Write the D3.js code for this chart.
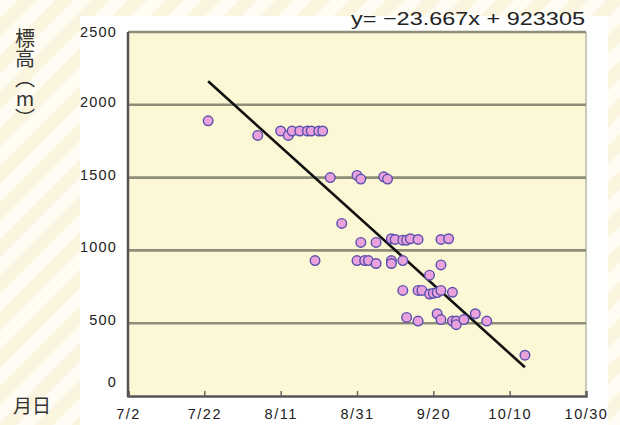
<!DOCTYPE html>
<html><head><meta charset="utf-8">
<script src="https://cdn.jsdelivr.net/npm/d3@7"></script>
<style>
html,body{margin:0;padding:0;background:#fff;}
svg{display:block;}
</style></head>
<body>
<svg id="c" width="620" height="425"></svg>
<script>
// ---- data ----
const dates = ["2006-07-23","2006-08-05","2006-08-11","2006-08-13","2006-08-14","2006-08-16","2006-08-18","2006-08-19","2006-08-21","2006-08-22",
"2006-08-20","2006-08-24","2006-08-27","2006-08-31","2006-09-01","2006-09-07","2006-09-08",
"2006-09-01","2006-09-05","2006-09-09","2006-09-10","2006-09-12","2006-09-13","2006-09-14","2006-09-16","2006-09-22","2006-09-24",
"2006-08-31","2006-09-02","2006-09-03","2006-09-05","2006-09-09","2006-09-09","2006-09-12","2006-09-22","2006-09-19",
"2006-09-12","2006-09-16","2006-09-17","2006-09-19","2006-09-20","2006-09-21","2006-09-22","2006-09-25",
"2006-09-13","2006-09-16","2006-09-21","2006-09-22","2006-09-25","2006-09-26","2006-09-26","2006-09-28","2006-10-01","2006-10-04","2006-10-14"];
const elevations = [1890,1790,1820,1790,1820,1820,1820,1820,1820,1820,
930,1500,1185,1515,1490,1505,1490,
1055,1055,1080,1075,1070,1070,1080,1075,1075,1080,
930,930,930,910,930,910,930,900,830,
725,725,725,700,705,710,725,712,
540,515,565,525,515,515,490,525,565,515,280];
const xTickDates = ["2006-07-02","2006-07-22","2006-08-11","2006-08-31","2006-09-20","2006-10-10","2006-10-30"];
const xTickLabels = ["7/2","7/22","8/11","8/31","9/20","10/10","10/30"];
const yTicks = [0,500,1000,1500,2000,2500];
const slope = -23.667, intercept = 923305;
const equationText = "y= \u221223.667x + 923305";
const yTitle = "標高（m）";
const xTitle = "月日";

// ---- setup ----
const parse = d3.timeParse("%Y-%m-%d");
const W = 620, H = 425;
const L = 128, R = 586, T = 32, B = 396;
const svg = d3.select("#c");
const defs = svg.append("defs");
const pat = defs.append("pattern").attr("id","stripes").attr("patternUnits","userSpaceOnUse")
  .attr("width",26).attr("height",26).attr("patternTransform","rotate(45)");
pat.append("rect").attr("width",26).attr("height",26).attr("fill","#fbf5df");
pat.append("rect").attr("width",13).attr("height",26).attr("fill","#fefcf3");

svg.append("rect").attr("width",W).attr("height",H).attr("fill","url(#stripes)");
svg.append("rect").attr("x",80).attr("y",16).attr("width",528).attr("height",H-16).attr("fill","#ffffff");

const x = d3.scaleTime().domain([parse(xTickDates[0]), parse(xTickDates[xTickDates.length-1])]).range([L,R]);
const y = d3.scaleLinear().domain([0,2500]).range([B,T]);

// plot background
svg.append("rect").attr("x",L).attr("y",T).attr("width",R-L).attr("height",B-T).attr("fill","#fcf8d5");
// right border
svg.append("line").attr("x1",R).attr("x2",R).attr("y1",T).attr("y2",B).attr("stroke","#b8b8aa").attr("stroke-width",1.5);

// gridlines
svg.append("g").selectAll("line").data(yTicks.filter(d=>d>0)).join("line")
  .attr("x1",L).attr("x2",R).attr("y1",d=>y(d)).attr("y2",d=>y(d))
  .attr("stroke","#8e8e78").attr("stroke-width",2.6);

// y tick labels
svg.append("g").selectAll("text").data(yTicks).join("text")
  .attr("x",L-11).attr("y",d=>y(d) + (d===0 ? -9 : (d===2500?5:2)))
  .attr("text-anchor","end")
  .attr("font-family","'Liberation Sans', Arial, sans-serif").attr("font-size",14.5)
  .attr("letter-spacing","1.2px").attr("fill","#222")
  .text(d=>d);

// axes
const xAxis = d3.axisBottom(x).tickValues(xTickDates.map(parse))
  .tickFormat((d,i)=>xTickLabels[i]).tickSize(-5).tickPadding(13);
const gx = svg.append("g").attr("transform",`translate(0,${B})`).call(xAxis);
gx.select(".domain").attr("stroke","#555").attr("stroke-width",2.5);
gx.selectAll(".tick line").attr("stroke","#666").attr("stroke-width",1.5);
gx.selectAll(".tick text").attr("font-family","'Liberation Sans', Arial, sans-serif")
  .attr("font-size",14.5).attr("letter-spacing","1.5px").attr("fill","#222");
svg.append("line").attr("x1",L).attr("x2",L).attr("y1",T).attr("y2",B+1)
  .attr("stroke","#555").attr("stroke-width",2.5);

// regression line
const parsedDates = dates.map(parse);
const excelEpoch = new Date(1899,11,30);
const serial = d => Math.round((d - excelEpoch)/86400000);
const dMin = d3.min(parsedDates), dMax = d3.max(parsedDates);
const regPts = [dMin, dMax].map(d => [x(d), y(slope*serial(d)+intercept)]);
svg.append("path").attr("d", d3.line()(regPts)).attr("stroke","#111").attr("stroke-width",2.6).attr("fill","none");

// points
svg.append("g").selectAll("circle").data(parsedDates.map((d,i)=>({d, v:elevations[i]}))).join("circle")
  .attr("cx",p=>x(p.d)).attr("cy",p=>y(p.v)).attr("r",4.8)
  .attr("fill","#eaa2dc").attr("stroke","#5a50ae").attr("stroke-width",1.4);

// equation
svg.append("text").attr("x",585).attr("y",25).attr("text-anchor","end")
  .attr("font-family","'Liberation Sans', Arial, sans-serif").attr("font-size",18.5)
  .attr("textLength",234).attr("lengthAdjust","spacingAndGlyphs").attr("fill","#222")
  .text(equationText);

// y title (vertical writing)
svg.append("text").attr("x",25).attr("y",28)
  .style("writing-mode","vertical-rl").style("text-orientation","upright")
  .attr("font-family","'Noto Sans CJK JP', sans-serif").attr("font-size",20)
  .attr("fill","#333").text(yTitle);

// x title
svg.append("text").attr("x",13).attr("y",413).attr("font-family","'Noto Sans CJK JP', sans-serif")
  .attr("font-size",19).attr("fill","#333").text(xTitle);
</script>
</body></html>
